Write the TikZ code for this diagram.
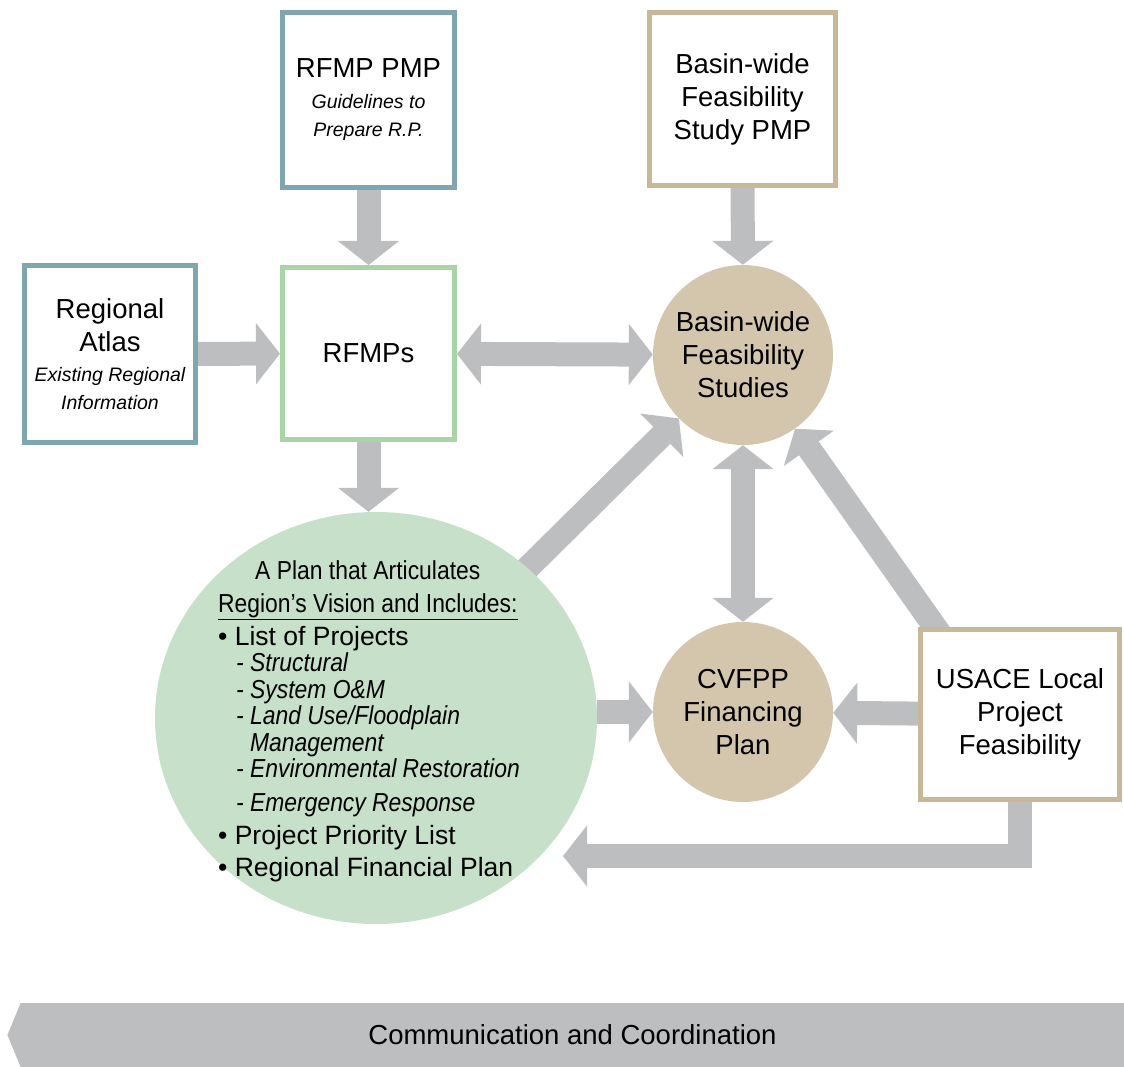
\documentclass[tikz,border=0pt]{standalone}
\usepackage{fontspec}
\setmainfont{Liberation Sans}
\newfontfamily\narrowfont{Liberation Sans}[FakeStretch=0.88]
\usetikzlibrary{arrows.meta,shapes.geometric,shapes.symbols,backgrounds}
\definecolor{pmpteal}{HTML}{7FA6AE}
\definecolor{rfmpgreen}{HTML}{A8D4A6}
\definecolor{basintan}{HTML}{C8B898}
\definecolor{tanfill}{HTML}{D3C6AC}
\definecolor{planfill}{HTML}{C6E0CA}
\definecolor{flowgrey}{HTML}{BDBEC0}
\tikzset{
  box/.style={draw, line width=5pt, fill=white, align=center, inner sep=0pt},
  study/.style={circle, fill=tanfill, minimum size=180pt, align=center, inner sep=0pt},
  flow/.style={draw=flowgrey, line width=24pt, -{Triangle[width=60pt,length=24pt]}},
  twoway/.style={flow, {Triangle[width=60pt,length=24pt]}-{Triangle[width=60pt,length=24pt]}},
  commbar/.style={shape=signal, signal to=west, signal pointer angle=135, fill=flowgrey,
    minimum width=1117pt, minimum height=64pt, inner sep=0pt}
}
\newcommand{\boxsub}[1]{{\fontsize{19.5}{28}\selectfont\itshape #1}}
\newcommand{\planhead}{\narrowfont\fontsize{26}{26.5}\selectfont}
\newcommand{\planitem}{\narrowfont\itshape\fontsize{26}{26.5}\selectfont}
\begin{document}
\begin{tikzpicture}[x=1pt,y=-1pt,font=\fontsize{27.5}{33}\selectfont]
    \useasboundingbox (0,0) rectangle (1124,1067);
    \node[box, draw=pmpteal, minimum width=172pt, minimum height=175pt] (pmp) at (368.5,100)
        {RFMP PMP\\[-2pt]\boxsub{Guidelines to}\\[-5pt]\boxsub{Prepare R.P.}};
    \node[box, draw=pmpteal, minimum width=171pt, minimum height=177pt] (atlas) at (110,354)
        {Regional\\Atlas\\[-3pt]\boxsub{Existing Regional}\\[-5pt]\boxsub{Information}};
    \node[box, draw=rfmpgreen, minimum width=172pt, minimum height=172pt] (rfmps) at (368.5,353.5) {RFMPs};
    \node[box, draw=basintan, minimum width=186pt, minimum height=173pt] (bpmp) at (742.5,99)
        {Basin-wide\\Feasibility\\Study PMP};
    \node[study] (studies) at (743,355) {Basin-wide\\Feasibility\\Studies};
    \node[study] (cvfpp) at (743,712) {CVFPP\\Financing\\Plan};
    \node[box, draw=basintan, minimum width=199pt, minimum height=170pt] (usace) at (1020,714.5)
        {USACE Local\\Project\\Feasibility};
    \node[ellipse, fill=planfill, minimum width=442pt, minimum height=412pt] (plan) at (376,718) {};
    \node[anchor=north west, inner sep=0pt, align=left, font=\fontsize{26.5}{26.5}\selectfont]
        (planlist) at (218,560) {%
        \hspace*{37pt}{\planhead A Plan that Articulates}\\[6.5pt]
        {\planhead\underline{Region’s Vision and Includes:}}\\[5.5pt]
        \textbullet\ List of Projects\\
        \hspace*{18pt}{\planitem - Structural}\\
        \hspace*{18pt}{\planitem - System O\&M}\\
        \hspace*{18pt}{\planitem - Land Use/Floodplain}\\
        \hspace*{18pt}{\planitem \phantom{- }Management}\\
        \hspace*{18pt}{\planitem - Environmental Restoration}\\[7.5pt]
        \hspace*{18pt}{\planitem - Emergency Response}\\[6.5pt]
        \textbullet\ Project Priority List\\[5.5pt]
        \textbullet\ Regional Financial Plan};
    \node[commbar] (comm) at (572.5,1035) {Communication and Coordination};
    \coordinate (backtip) at (563,856);
    \begin{scope}[on background layer]
        \draw[flow] (pmp) -- (rfmps);
        \draw[flow] (atlas) -- (rfmps);
        \draw[twoway] (rfmps) -- (studies);
        \draw[flow] (rfmps.south) -- (rfmps.south |- plan.north);
        \draw[flow] (bpmp) -- (studies);
        \draw[flow, shorten <=-20pt] (plan) -- (studies);
        \draw[twoway] (studies) -- (cvfpp);
        \draw[flow, shorten <=-15pt] ([xshift=-85pt]usace.north) -- (studies);
        \draw[flow] (cvfpp -| plan.east) -- (cvfpp);
        \draw[flow] (usace) -- (cvfpp);
        \draw[flow, shorten <=-5pt] (usace.south) |- (backtip);
    \end{scope}
\end{tikzpicture}
\end{document}
